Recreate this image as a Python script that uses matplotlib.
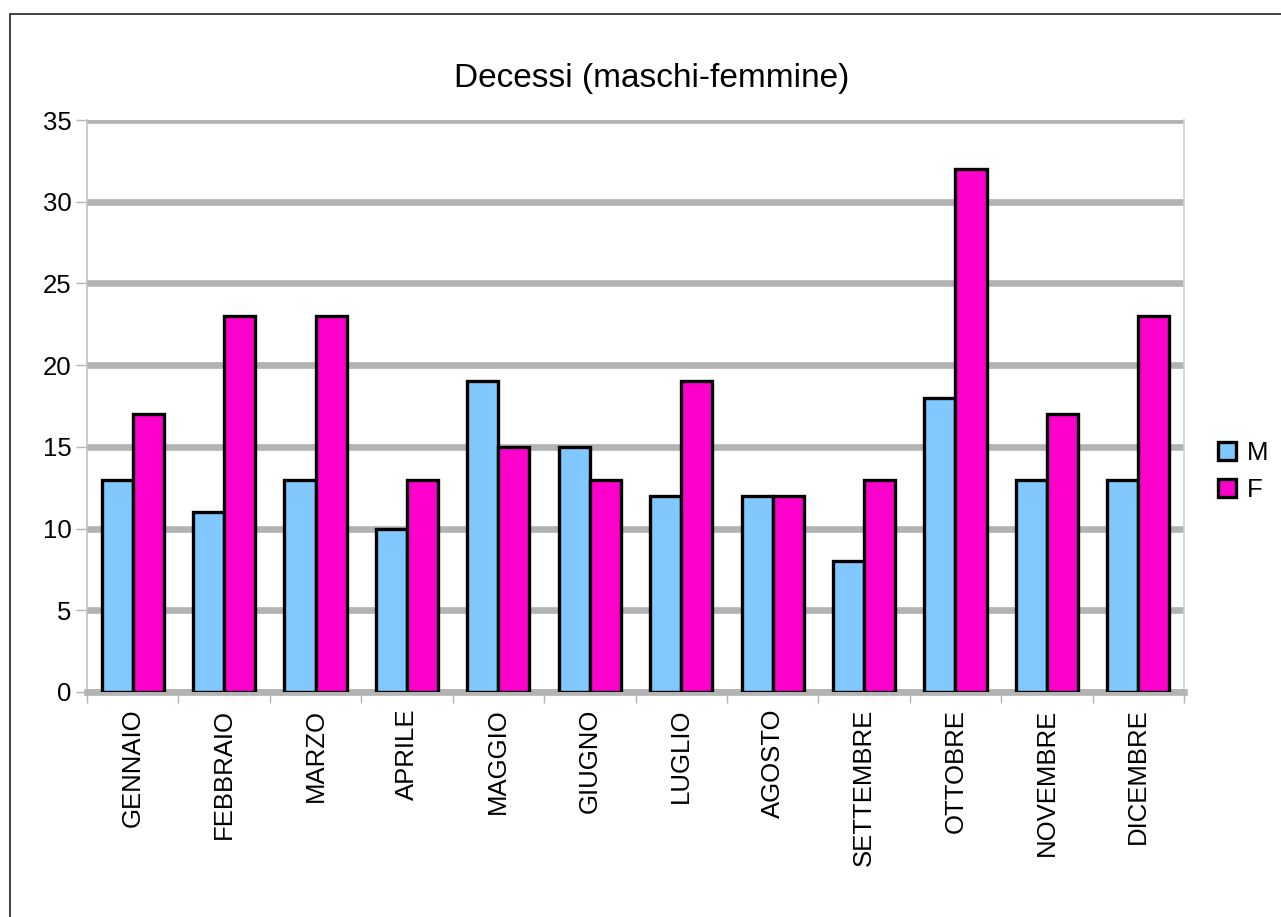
import matplotlib
matplotlib.use("Agg")
import matplotlib.pyplot as plt
import numpy as np
from matplotlib.patches import Rectangle

plt.rcParams['font.family'] = ['Liberation Sans', 'DejaVu Sans']

months = ["GENNAIO", "FEBBRAIO", "MARZO", "APRILE", "MAGGIO", "GIUGNO",
          "LUGLIO", "AGOSTO", "SETTEMBRE", "OTTOBRE", "NOVEMBRE", "DICEMBRE"]
maschi = [13, 11, 13, 10, 19, 15, 12, 12, 8, 18, 13, 13]
femmine = [17, 23, 23, 13, 15, 13, 19, 12, 13, 32, 17, 23]
yticks = [0, 5, 10, 15, 20, 25, 30, 35]

fig = plt.figure(figsize=(12.81, 9.17), dpi=100)
ax = fig.add_axes([0.0679, 0.2454, 0.8564, 0.6237])

# outer frame (only top/left visible in the reference)
fig.add_artist(Rectangle((10 / 1281, -0.01), 1.1, 1 - 14 / 917 + 0.01,
                         transform=fig.transFigure, fill=False,
                         edgecolor='#222222', linewidth=1.2))

x = np.arange(len(months))
w = 0.34
ax.bar(x - w / 2, maschi, w, color='#80c8ff', edgecolor='black', linewidth=2.4, label='M', zorder=3)
ax.bar(x + w / 2, femmine, w, color='#ff00cc', edgecolor='black', linewidth=2.4, label='F', zorder=3)

ax.set_xlim(-0.5, len(months) - 0.5)
ax.set_ylim(0, 35)
ax.set_yticks(yticks)
ax.yaxis.grid(True, color='#b3b3b3', linewidth=4.8, zorder=0)
ax.set_axisbelow(True)

ax.set_xticks(np.arange(len(months) + 1) - 0.5)
ax.set_xticklabels([])
ax.set_xticks(x, minor=True)
ax.set_xticklabels(months, minor=True, rotation=90, fontsize=18.5)
ax.tick_params(axis='x', which='minor', length=0, pad=12)
ax.tick_params(axis='x', which='major', length=8, color='#b3b3b3', width=1)
ax.tick_params(axis='y', length=8, color='#b3b3b3', width=1, labelsize=18.5, pad=3)

ax.spines['top'].set_visible(False)
ax.spines['left'].set_color('#c0c0c0')
ax.spines['right'].set_color('#d0d0d0')
ax.spines['right'].set_linewidth(1.2)
ax.spines['bottom'].set_color('#b3b3b3')
ax.spines['bottom'].set_linewidth(4.8)
ax.spines['left'].set_linewidth(1.2)

ax.set_title("Decessi (maschi-femmine)", fontsize=24, pad=24, x=0.515)

ax.legend(loc='center left', bbox_to_anchor=(1.01, 0.386), frameon=False,
          fontsize=18.5, handlelength=0.7, handleheight=0.7, handletextpad=0.4,
          labelspacing=0.5)

fig.savefig("out.png", dpi=100)
